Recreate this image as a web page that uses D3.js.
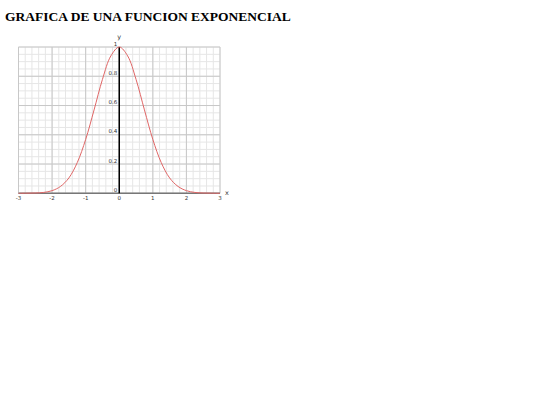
<!DOCTYPE html>
<html>
<head>
<meta charset="utf-8">
<script src="https://cdn.jsdelivr.net/npm/d3@7"></script>
<style>
  body { margin: 0; background: #fff; }
  h1 { font-family: "Liberation Serif", "Times New Roman", serif; font-size: 13.5px; font-weight: bold;
       margin: 0; position: absolute; left: 5px; top: 9px; color: #000; }
  svg { position: absolute; left: 0; top: 0; }
</style>
</head>
<body>
<h1>GRAFICA DE UNA FUNCION EXPONENCIAL</h1>
<svg width="540" height="405"></svg>
<script>
// values
const xs = [-3, -2.75, -2.5, -2.25, -2, -1.75, -1.5, -1.25, -1, -0.75, -0.5, -0.25, 0,
            0.25, 0.5, 0.75, 1, 1.25, 1.5, 1.75, 2, 2.25, 2.5, 2.75, 3];
const ys = [0.000, 0.001, 0.002, 0.006, 0.018, 0.047, 0.105, 0.210, 0.368, 0.570, 0.779, 0.939, 1.000,
            0.939, 0.779, 0.570, 0.368, 0.210, 0.105, 0.047, 0.018, 0.006, 0.002, 0.001, 0.000];
const xTicks = [-3, -2, -1, 0, 1, 2, 3];
const yTicks = [0, 0.2, 0.4, 0.6, 0.8, 1];

const svg = d3.select("svg");
const x = d3.scaleLinear().domain([-3, 3]).range([18.5, 220]);
const y = d3.scaleLinear().domain([0, 1]).range([193.3, 47]);

const g = svg.append("g");

// minor grid
g.append("g").selectAll("line")
  .data(d3.range(-3, 3.001, 0.2))
  .join("line")
  .attr("x1", d => x(d)).attr("x2", d => x(d))
  .attr("y1", y(1)).attr("y2", y(0))
  .attr("stroke", "#e6e6e6").attr("stroke-width", 1);
g.append("g").selectAll("line")
  .data(d3.range(0, 1.001, 0.05))
  .join("line")
  .attr("x1", x(-3)).attr("x2", x(3))
  .attr("y1", d => y(d)).attr("y2", d => y(d))
  .attr("stroke", "#e6e6e6").attr("stroke-width", 1);

// major grid
g.append("g").selectAll("line")
  .data(xTicks)
  .join("line")
  .attr("x1", d => x(d)).attr("x2", d => x(d))
  .attr("y1", y(1)).attr("y2", y(0))
  .attr("stroke", "#c8c8c8").attr("stroke-width", 1);
g.append("g").selectAll("line")
  .data(yTicks)
  .join("line")
  .attr("x1", x(-3)).attr("x2", x(3))
  .attr("y1", d => y(d)).attr("y2", d => y(d))
  .attr("stroke", "#c8c8c8").attr("stroke-width", 1);

// axes
g.append("line")
  .attr("x1", x(-3)).attr("x2", x(3))
  .attr("y1", y(0)).attr("y2", y(0))
  .attr("stroke", "#777").attr("stroke-width", 1.5);
g.append("line")
  .attr("x1", x(0)).attr("x2", x(0))
  .attr("y1", y(1)).attr("y2", y(0))
  .attr("stroke", "#000").attr("stroke-width", 1.5);

// tick labels
const lab = g.append("g")
  .attr("font-family", "'DejaVu Sans', sans-serif")
  .attr("font-size", 5.5)
  .attr("fill", "#333");
lab.selectAll(".xt")
  .data(xTicks)
  .join("text")
  .attr("x", d => x(d)).attr("y", y(0) + 7)
  .attr("text-anchor", "middle")
  .text(d => d);
lab.selectAll(".yt")
  .data(yTicks)
  .join("text")
  .attr("x", x(0) - 2).attr("y", d => y(d) - 1.5)
  .attr("text-anchor", "end")
  .text(d => d);
lab.append("text").attr("x", x(0)).attr("y", y(1) - 8)
  .attr("text-anchor", "middle").attr("font-size", 6.5).text("y");
lab.append("text").attr("x", x(3) + 7).attr("y", y(0) + 2)
  .attr("text-anchor", "middle").attr("font-size", 6.5).text("x");

// curve
const line = d3.line()
  .x((d, i) => x(xs[i]))
  .y(d => y(d))
  .curve(d3.curveCatmullRom);
g.append("path")
  .datum(ys)
  .attr("d", line)
  .attr("fill", "none")
  .attr("stroke", "#e06666")
  .attr("stroke-width", 1);
</script>
</body>
</html>
